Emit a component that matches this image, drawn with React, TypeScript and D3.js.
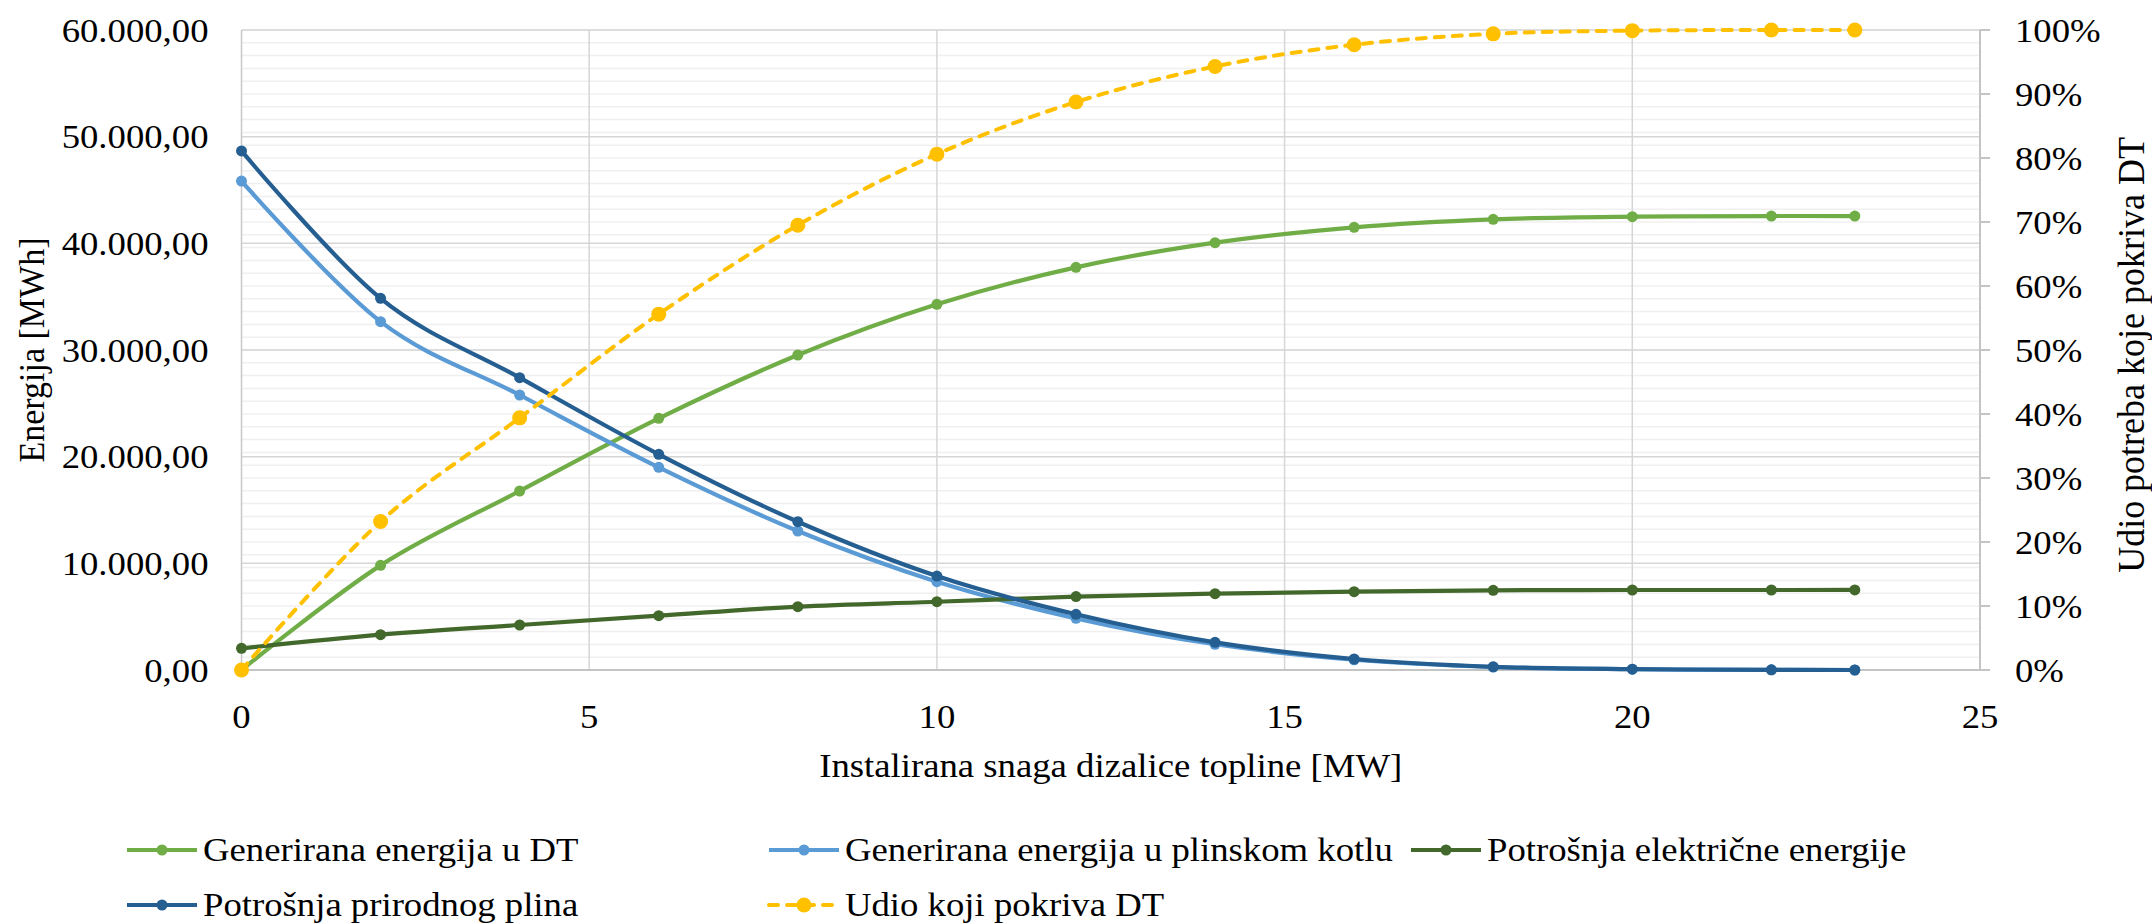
import React from "react";
import * as d3 from "d3";

// Installed heat-pump capacity [MW]
const CAPACITY_MW = [0, 2, 4, 6, 8, 10, 12, 14, 16, 18, 20, 22, 23.2];

// Energy series [MWh]
const DT_GENERATED = [0, 9810, 16780, 23590, 29530, 34280, 37750, 40060, 41500, 42250, 42500, 42560, 42560];
const BOILER_GENERATED = [45840, 32660, 25780, 19000, 13030, 8280, 4840, 2410, 960, 280, 75, 14, 0];
const ELECTRICITY_USE = [2030, 3310, 4220, 5090, 5940, 6400, 6880, 7160, 7340, 7470, 7500, 7500, 7510];
const GAS_USE = [48660, 34840, 27410, 20220, 13900, 8810, 5220, 2590, 1030, 300, 80, 15, 0];

// Share of demand covered by the heat pump (secondary axis)
const DT_SHARE = [0, 0.232, 0.394, 0.556, 0.695, 0.806, 0.8875, 0.943, 0.977, 0.994, 0.999, 1.0, 1.0];

// Axis ticks
const X_TICKS = [0, 5, 10, 15, 20, 25];
const Y_TICKS = [0, 10000, 20000, 30000, 40000, 50000, 60000];
const Y2_TICKS = [0, 0.1, 0.2, 0.3, 0.4, 0.5, 0.6, 0.7, 0.8, 0.9, 1.0];

const X_TITLE = "Instalirana snaga dizalice topline [MW]";
const Y_TITLE = "Energija [MWh]";
const Y2_TITLE = "Udio potreba koje pokriva DT";

type Series = {
  name: string;
  values: number[];
  color: string;
  secondary?: boolean;
  dashed?: boolean;
  r: number;
};

const SERIES: Series[] = [
  { name: "Generirana energija u DT", values: DT_GENERATED, color: "#70AD47", r: 5.5 },
  { name: "Generirana energija u plinskom kotlu", values: BOILER_GENERATED, color: "#5B9BD5", r: 5.5 },
  { name: "Potrošnja električne energije", values: ELECTRICITY_USE, color: "#43682B", r: 5.5 },
  { name: "Potrošnja prirodnog plina", values: GAS_USE, color: "#255E91", r: 5.5 },
  { name: "Udio koji pokriva DT", values: DT_SHARE, color: "#FFC000", secondary: true, dashed: true, r: 7.5 },
];

const W = 2152;
const H = 924;
const LEFT = 241.5;
const RIGHT = 1980;
const TOP = 30;
const BOTTOM = 670;

const FONT = "'Liberation Serif', 'Times New Roman', serif";
const FS = 34;
const SX = 1.08;

const hr = d3.formatLocale({ decimal: ",", thousands: ".", grouping: [3], currency: ["", ""] });
const fmtEnergy = hr.format(",.2f");
const fmtPct = d3.format(".0%");

function Label(props: {
  x: number;
  y: number;
  anchor?: "start" | "middle" | "end";
  size?: number;
  rotate?: number;
  children: React.ReactNode;
}) {
  const { x, y, anchor = "start", size = FS, rotate, children } = props;
  const t = `translate(${x},${y}) scale(${SX},1)${rotate ? ` rotate(${rotate})` : ""}`;
  return (
    <text transform={t} textAnchor={anchor} fontSize={size} fontFamily={FONT} fill="#000">
      {children}
    </text>
  );
}

export default function App() {
  const x = d3.scaleLinear().domain([0, 25]).range([LEFT, RIGHT]);
  const y = d3.scaleLinear().domain([0, 60000]).range([BOTTOM, TOP]);
  const y2 = d3.scaleLinear().domain([0, 1]).range([BOTTOM, TOP]);

  const minorTicks = d3.range(0, 51).map((i) => i * 0.02);

  const lineFor = (s: Series) =>
    d3
      .line<number>()
      .x((_, i) => x(CAPACITY_MW[i]))
      .y((v) => (s.secondary ? y2(v) : y(v)))
      .curve(d3.curveCatmullRom.alpha(0))(s.values) || "";

  const legendCols = [127, 769, 1411];
  const legendRows = [850, 905];

  return (
    <svg
      width={W}
      height={H}
      viewBox={`0 0 ${W} ${H}`}
      style={{ position: "absolute", left: 0, top: 0, background: "#fff" }}
    >
      <rect x={0} y={0} width={W} height={H} fill="#fff" />

      {/* minor horizontal gridlines (secondary axis, every 2 %) */}
      {minorTicks.map((t, i) => (
        <line key={`mn${i}`} x1={LEFT} x2={RIGHT} y1={y2(t)} y2={y2(t)} stroke="#f0f0f0" strokeWidth={1.5} />
      ))}

      {/* major horizontal gridlines */}
      {Y_TICKS.map((t) => (
        <line key={`mj${t}`} x1={LEFT} x2={RIGHT} y1={y(t)} y2={y(t)} stroke="#d6d6d6" strokeWidth={1.5} />
      ))}

      {/* vertical gridlines */}
      {X_TICKS.filter((t) => t > 0 && t < 25).map((t) => (
        <line key={`vx${t}`} x1={x(t)} x2={x(t)} y1={TOP} y2={BOTTOM} stroke="#d6d6d6" strokeWidth={1.5} />
      ))}

      {/* axis lines */}
      <line x1={LEFT} x2={LEFT} y1={TOP} y2={BOTTOM} stroke="#c8c8c8" strokeWidth={1.5} />
      <line x1={LEFT} x2={RIGHT} y1={BOTTOM} y2={BOTTOM} stroke="#c4c4c4" strokeWidth={2} />
      <line x1={RIGHT} x2={RIGHT} y1={TOP} y2={BOTTOM} stroke="#c4c4c4" strokeWidth={2} />
      {Y2_TICKS.map((t) => (
        <line key={`t2${t}`} x1={RIGHT} x2={RIGHT + 10} y1={y2(t)} y2={y2(t)} stroke="#c4c4c4" strokeWidth={2} />
      ))}

      {/* series */}
      {SERIES.map((s) => (
        <g key={s.name}>
          <path
            d={lineFor(s)}
            fill="none"
            stroke={s.color}
            strokeWidth={s.dashed ? 4 : 4.2}
            strokeDasharray={s.dashed ? "9 9" : undefined}
            strokeLinecap={s.dashed ? "round" : "butt"}
            strokeLinejoin="round"
          />
          {s.values.map((v, i) => (
            <circle
              key={i}
              cx={x(CAPACITY_MW[i])}
              cy={s.secondary ? y2(v) : y(v)}
              r={s.r}
              fill={s.color}
            />
          ))}
        </g>
      ))}

      {/* left axis labels */}
      {Y_TICKS.map((t) => (
        <Label key={`yl${t}`} x={208.5} y={y(t) + 11.6} anchor="end">
          {fmtEnergy(t)}
        </Label>
      ))}

      {/* right axis labels */}
      {Y2_TICKS.map((t) => (
        <Label key={`y2l${t}`} x={2015} y={y2(t) + 11.6}>
          {fmtPct(t)}
        </Label>
      ))}

      {/* x axis labels */}
      {X_TICKS.map((t) => (
        <Label key={`xl${t}`} x={x(t)} y={728} anchor="middle">
          {t}
        </Label>
      ))}

      {/* axis titles */}
      <Label x={44} y={350} anchor="middle" rotate={-90}>
        {Y_TITLE}
      </Label>
      <Label x={2144} y={355} anchor="middle" rotate={-90} size={36}>
        {Y2_TITLE}
      </Label>
      <Label x={(LEFT + RIGHT) / 2} y={777} anchor="middle">
        {X_TITLE}
      </Label>

      {/* legend */}
      {SERIES.map((s, i) => {
        const lx = legendCols[i < 3 ? i : i - 3];
        const ly = legendRows[i < 3 ? 0 : 1];
        return (
          <g key={`lg${i}`}>
            <line
              x1={lx}
              x2={lx + 70}
              y1={ly}
              y2={ly}
              stroke={s.color}
              strokeWidth={s.dashed ? 4 : 4.2}
              strokeDasharray={s.dashed ? "9 9" : undefined}
              strokeLinecap={s.dashed ? "round" : "butt"}
            />
            <circle cx={lx + 35} cy={ly} r={s.r} fill={s.color} />
            <Label x={lx + 76} y={ly + 10.5}>
              {s.name}
            </Label>
          </g>
        );
      })}
    </svg>
  );
}
